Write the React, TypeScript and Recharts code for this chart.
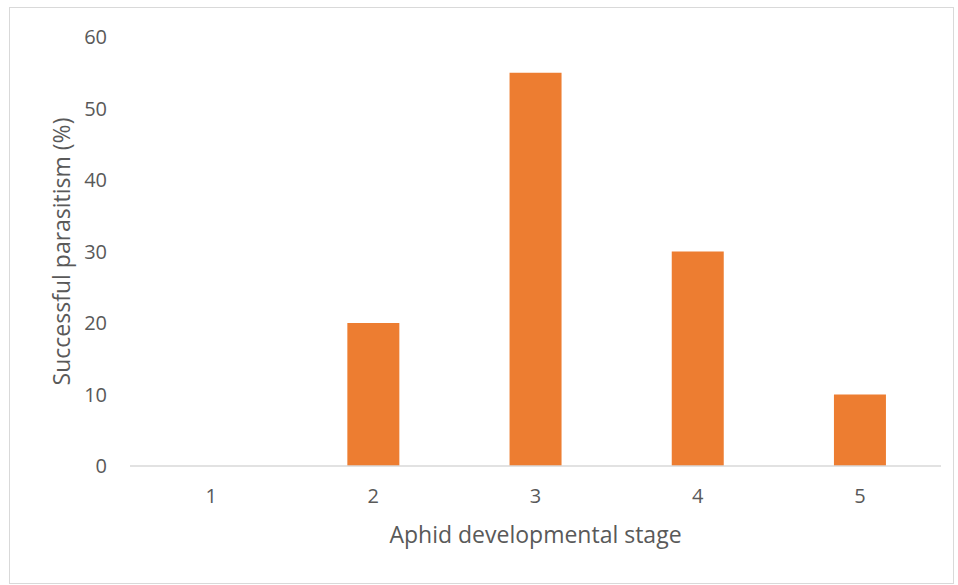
import { BarChart, Bar, XAxis, YAxis } from "recharts";

const stages = ["1", "2", "3", "4", "5"];
const parasitism = [0, 20, 55, 30, 10];
const yTicks = [0, 10, 20, 30, 40, 50, 60];

const data = stages.map((stage, i) => ({ stage, value: parasitism[i] }));

const font = "'Open Sans', sans-serif";
const textColor = "#595959";

export default function App() {
  return (
    <div style={{ position: "absolute", left: 0, top: 0, width: 958, height: 585, background: "#fff" }}>
      <div
        style={{
          position: "absolute",
          left: 9,
          top: 7,
          width: 943,
          height: 575,
          border: "1px solid #d9d9d9",
        }}
      />
      <BarChart
        width={958}
        height={585}
        data={data}
        margin={{ top: 37, right: 17, left: 0, bottom: 39 }}
        barCategoryGap="34%"
        style={{ position: "absolute", left: 0, top: 0, fontFamily: font }}
      >
        <XAxis
          dataKey="stage"
          height={80}
          tickLine={false}
          axisLine={{ stroke: "#d9d9d9", strokeWidth: 1.5 }}
          tick={{ fill: textColor, fontSize: 20 }}
          tickMargin={17}
          label={{ value: "Aphid developmental stage", position: "insideBottom", offset: 3, fill: textColor, fontSize: 23 }}
        />
        <YAxis
          width={130}
          domain={[0, 60]}
          ticks={yTicks}
          axisLine={false}
          tickLine={false}
          tickSize={0}
          tickMargin={23}
          tick={{ fill: textColor, fontSize: 20 }}
          label={{ value: "Successful parasitism (%)", angle: -90, position: "insideLeft", offset: 62, fill: textColor, fontSize: 23, style: { textAnchor: "middle" } }}
        />
        <Bar dataKey="value" fill="#ED7D31" isAnimationActive={false} />
      </BarChart>
    </div>
  );
}
